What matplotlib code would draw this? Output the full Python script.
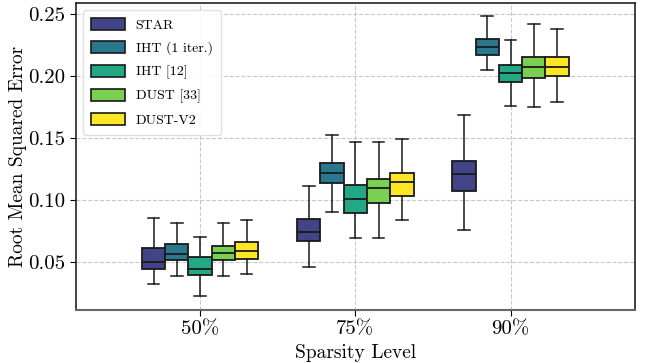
import matplotlib
matplotlib.use("Agg")
import matplotlib.pyplot as plt
import matplotlib.patches as mpatches
from matplotlib.ticker import FormatStrFormatter

plt.rcParams['font.family'] = ['cmr10', 'DejaVu Serif']
plt.rcParams['axes.formatter.use_mathtext'] = True
plt.rcParams['mathtext.fontset'] = 'cm'

categories = ["50%", "75%", "90%"]
methods = ["STAR", "IHT (1 iter.)", "IHT [12]", "DUST [33]", "DUST-V2"]
colors = ['#414487', '#2a788e', '#22a884', '#7ad151', '#fde725']

whislo = {
    "STAR":          [0.0320, 0.0457, 0.0756],
    "IHT (1 iter.)": [0.0384, 0.0902, 0.2052],
    "IHT [12]":      [0.0223, 0.0692, 0.1758],
    "DUST [33]":     [0.0382, 0.0694, 0.1753],
    "DUST-V2":       [0.0401, 0.0837, 0.1793],
}
q1 = {
    "STAR":          [0.0443, 0.0670, 0.1074],
    "IHT (1 iter.)": [0.0511, 0.1136, 0.2169],
    "IHT [12]":      [0.0395, 0.0894, 0.1950],
    "DUST [33]":     [0.0511, 0.0975, 0.1983],
    "DUST-V2":       [0.0519, 0.1029, 0.2002],
}
med = {
    "STAR":          [0.0495, 0.0740, 0.1211],
    "IHT (1 iter.)": [0.0560, 0.1215, 0.2233],
    "IHT [12]":      [0.0439, 0.1007, 0.2020],
    "DUST [33]":     [0.0568, 0.1098, 0.2072],
    "DUST-V2":       [0.0589, 0.1142, 0.2072],
}
q3 = {
    "STAR":          [0.0608, 0.0848, 0.1317],
    "IHT (1 iter.)": [0.0646, 0.1295, 0.2298],
    "IHT [12]":      [0.0536, 0.1123, 0.2090],
    "DUST [33]":     [0.0629, 0.1171, 0.2155],
    "DUST-V2":       [0.0659, 0.1217, 0.2155],
}
whishi = {
    "STAR":          [0.0851, 0.1114, 0.1682],
    "IHT (1 iter.)": [0.0810, 0.1527, 0.2484],
    "IHT [12]":      [0.0702, 0.1470, 0.2290],
    "DUST [33]":     [0.0815, 0.1470, 0.2416],
    "DUST-V2":       [0.0837, 0.1492, 0.2378],
}

fig = plt.figure(figsize=(6.49, 3.63), dpi=100)
ax = fig.add_axes([0.117, 0.146, 0.861, 0.846])

width = 0.15
n = len(methods)
for i, m in enumerate(methods):
    offset = (i - (n - 1) / 2) * width
    stats = []
    for j in range(len(categories)):
        stats.append(dict(whislo=whislo[m][j], q1=q1[m][j], med=med[m][j],
                          q3=q3[m][j], whishi=whishi[m][j], fliers=[]))
    pos = [j + offset for j in range(len(categories))]
    ax.bxp(stats, positions=pos, widths=width, patch_artist=True,
           showfliers=False, manage_ticks=False,
           boxprops=dict(facecolor=colors[i], edgecolor='#1a1a1a', linewidth=1.3),
           medianprops=dict(color='#1a1a1a', linewidth=1.3),
           whiskerprops=dict(color='#1a1a1a', linewidth=1.1),
           capprops=dict(color='#1a1a1a', linewidth=1.1),
           zorder=3)

ax.set_xlim(-0.8, 2.8)
ax.set_ylim(0.011, 0.259)
ax.set_xticks(range(len(categories)))
ax.set_xticklabels(categories)
ax.set_yticks([0.05, 0.10, 0.15, 0.20, 0.25])
ax.yaxis.set_major_formatter(FormatStrFormatter('%.2f'))
ax.tick_params(labelsize=15, length=4)
ax.grid(True, linestyle='--', color='#c8c8c8', linewidth=0.8, zorder=0)
ax.set_axisbelow(True)
for s in ax.spines.values():
    s.set_color('#222222')
    s.set_linewidth(1.2)
ax.spines['bottom'].set_color('#666666')
ax.spines['bottom'].set_linewidth(1.5)

ax.set_xlabel("Sparsity Level", fontsize=14, labelpad=4)
ax.set_ylabel("Root Mean Squared Error", fontsize=14, labelpad=1)

handles = [mpatches.Patch(facecolor=c, edgecolor='#1a1a1a', linewidth=1.2, label=m)
           for c, m in zip(colors, methods)]
ax.legend(handles=handles, loc='upper left', fontsize=10, handlelength=2.4,
          handleheight=0.9, framealpha=0.9, edgecolor='#dddddd',
          borderpad=0.6, labelspacing=0.7)

fig.savefig("out.png", dpi=100)
